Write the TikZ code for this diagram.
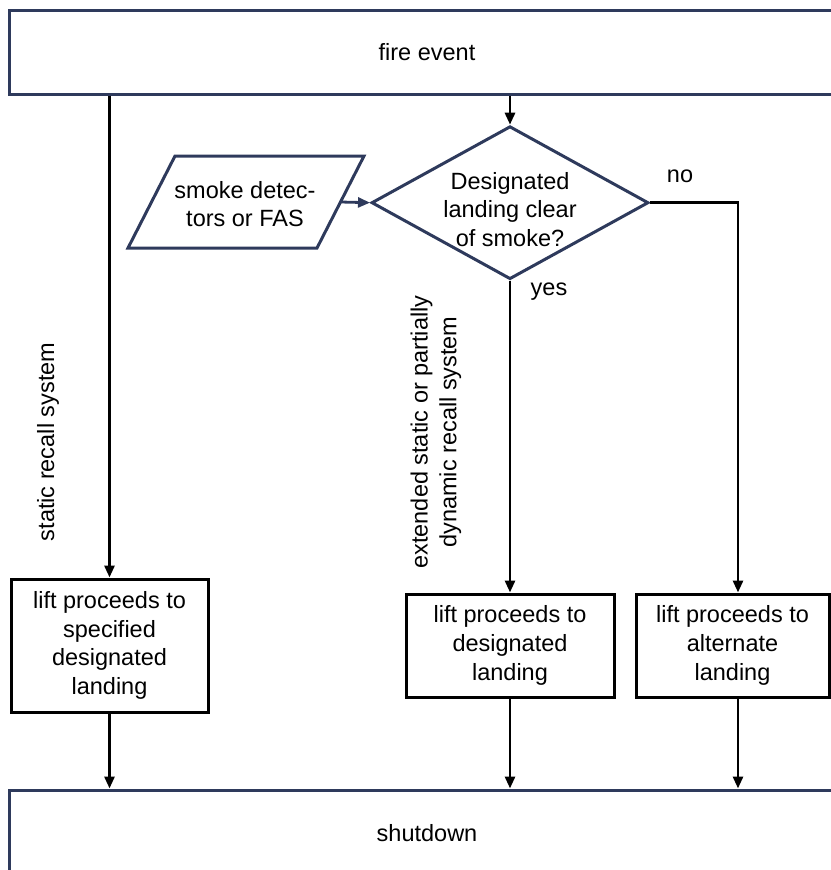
\documentclass[tikz,border=0pt]{standalone}
\usepackage{fontspec}
\setmainfont{Liberation Sans}
\usetikzlibrary{shapes.geometric,arrows.meta,calc}
\definecolor{navy}{HTML}{2E3A5C}
\tikzset{
  txt/.style={font=\fontsize{23.5}{28.8}\selectfont, align=center, inner sep=0pt},
  bigbox/.style={draw=navy, line width=3pt, inner sep=0pt},
  liftbox/.style={draw=black, line width=3pt, inner sep=0pt, txt},
  conn/.style={draw=black, line width=2.8pt},
  arr/.style={conn, -{Triangle[length=12pt,width=10pt]}},
  navyarr/.style={draw=navy, line width=2.8pt, -{Triangle[length=12pt,width=10pt]}},
}
\begin{document}
\begin{tikzpicture}[x=1pt,y=-1pt]
\useasboundingbox (0,0) rectangle (830,870);
% top and bottom boxes
\node[bigbox, minimum width=835, minimum height=84] (fire) at (427,52) {};
\node[txt] (firet) at (fire) {fire event};
\node[bigbox, minimum width=835, minimum height=86] (shut) at (427,833) {};
\node[txt] (shutt) at (shut) {shutdown};
% decision
\node[diamond, draw=navy, line width=3pt, minimum width=277, minimum height=153, inner sep=0pt] (dec) at (510,202.7) {};
\node[txt] (dect) at (510,209.5) {Designated\\landing clear\\of smoke?};
% parallelogram input
\coordinate (pTL) at (175,156);
\coordinate (pTR) at (364,156);
\coordinate (pBR) at (317,248);
\coordinate (pBL) at (128,248);
\draw[navy, line width=3pt, line join=miter] (pTL) -- (pTR) -- (pBR) -- (pBL) -- cycle;
\coordinate (pR) at ($(pTR)!0.5!(pBR)$);
\node[txt] (smoke) at (245,204) {smoke detec-\\tors or FAS};
% lift boxes
\node[liftbox, minimum width=197, minimum height=133] (b1) at (109.5,645.5) {lift proceeds to\\specified\\designated\\landing};
\node[liftbox, minimum width=208, minimum height=103] (b2) at (510,645.5) {lift proceeds to\\designated\\landing};
\node[liftbox, minimum width=193, minimum height=103] (b3) at (732.5,645.5) {lift proceeds to\\alternate\\landing};
\coordinate (noturn) at (738,202.7);
% connectors
\draw[arr] (fire.south -| b1.north) -- (b1.north);
\draw[arr] (fire.south -| dec.north) -- (dec.north);
\draw[navyarr] (pR) -- (dec.west);
\draw[arr] (dec.south) -- (b2.north);
\draw[arr] (dec.east) -- (noturn) -- (noturn |- b3.north);
\draw[arr] (b1.south) -- (shut.north -| b1.south);
\draw[arr] (b2.south) -- (shut.north -| b2.south);
\draw[arr] (b3.south -| noturn) -- (shut.north -| noturn);
% labels
\node[txt] (no) at (680,176) {no};
\node[txt] (yes) at (549,292) {yes};
\node[txt, rotate=90] (static) at (48,442) {static recall system};
\node[txt, rotate=90] (ext) at (436,432) {extended static or partially\\dynamic recall system};
\end{tikzpicture}
\end{document}
